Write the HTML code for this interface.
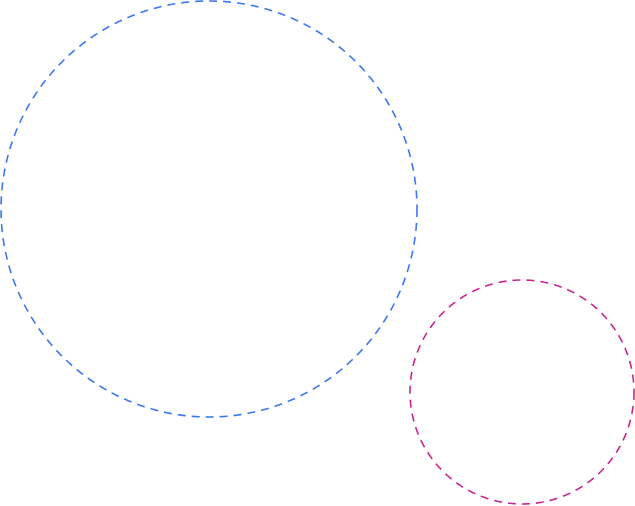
<!DOCTYPE html>
<html><head><style>html,body{margin:0;padding:0;background:#fff;}svg{display:block}</style></head>
<body>
<svg width="635" height="506" viewBox="0 0 635 506" xmlns="http://www.w3.org/2000/svg">
<circle cx="209" cy="209" r="208" fill="none" stroke="#3a78f0" stroke-width="1.6" stroke-dasharray="8 6"/>
<circle cx="522" cy="392" r="112" fill="none" stroke="#c8258f" stroke-width="1.6" stroke-dasharray="8 6"/>
</svg>
</body></html>
